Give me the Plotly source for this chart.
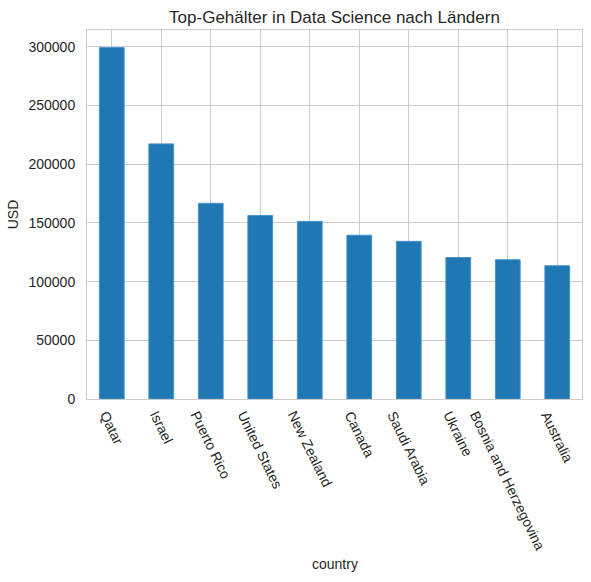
import plotly.graph_objects as go

# top salaries per country (USD)
countries = ["Qatar", "Israel", "Puerto Rico", "United States", "New Zealand",
             "Canada", "Saudi Arabia", "Ukraine", "Bosnia and Herzegovina", "Australia"]
salaries = [299300, 217300, 166700, 156300, 151300, 139500, 134300, 120500, 118600, 113500]
y_ticks = [0, 50000, 100000, 150000, 200000, 250000, 300000]

txt = "#262626"
font = "Liberation Sans, Arial, sans-serif"

fig = go.Figure(go.Bar(
    x=countries, y=salaries,
    marker=dict(color="#1f77b4", line=dict(color="#4a92c9", width=1)),
))

# rotated country labels, centred under each bar like matplotlib does
for c in countries:
    fig.add_annotation(x=c, y=0, xref="x", yref="paper", text=c, showarrow=False,
                       textangle=64, xanchor="center", yanchor="top", yshift=-7,
                       font=dict(size=14, color=txt, family=font))

fig.add_annotation(x=0.5, y=-0.446, xref="paper", yref="paper", text="country",
                   showarrow=False, xanchor="center", yanchor="middle",
                   font=dict(size=14, color=txt, family=font))

fig.update_layout(
    width=591, height=582,
    margin=dict(l=87, r=9, t=30, b=183),
    paper_bgcolor="white", plot_bgcolor="white",
    bargap=0.5, showlegend=False,
    font=dict(family=font, size=14, color=txt),
    title=dict(text="Top-Gehälter in Data Science nach Ländern", x=0.5, xref="paper",
               y=1 - 17 / 582, yref="container", xanchor="center", yanchor="middle",
               font=dict(size=17, color=txt, family=font)),
)
fig.update_xaxes(showticklabels=False, showgrid=True, gridcolor="#cccccc", gridwidth=1,
                 showline=True, linecolor="#cccccc", mirror=True, ticks="")
fig.update_yaxes(range=[0, 314300], tickvals=y_ticks, ticktext=[str(v) for v in y_ticks],
                 showgrid=True, gridcolor="#cccccc", gridwidth=1, zeroline=False,
                 showline=True, linecolor="#cccccc", mirror=True, ticks="",
                 ticklabelstandoff=8, tickfont=dict(size=14, color=txt),
                 title=dict(text="USD", standoff=6, font=dict(size=14, color=txt)))

# drop the page's default body margin so the figure sits at the window corner
fig.write_html("out.html", config={"displayModeBar": False},
               post_script="document.body.style.margin='0px';")
